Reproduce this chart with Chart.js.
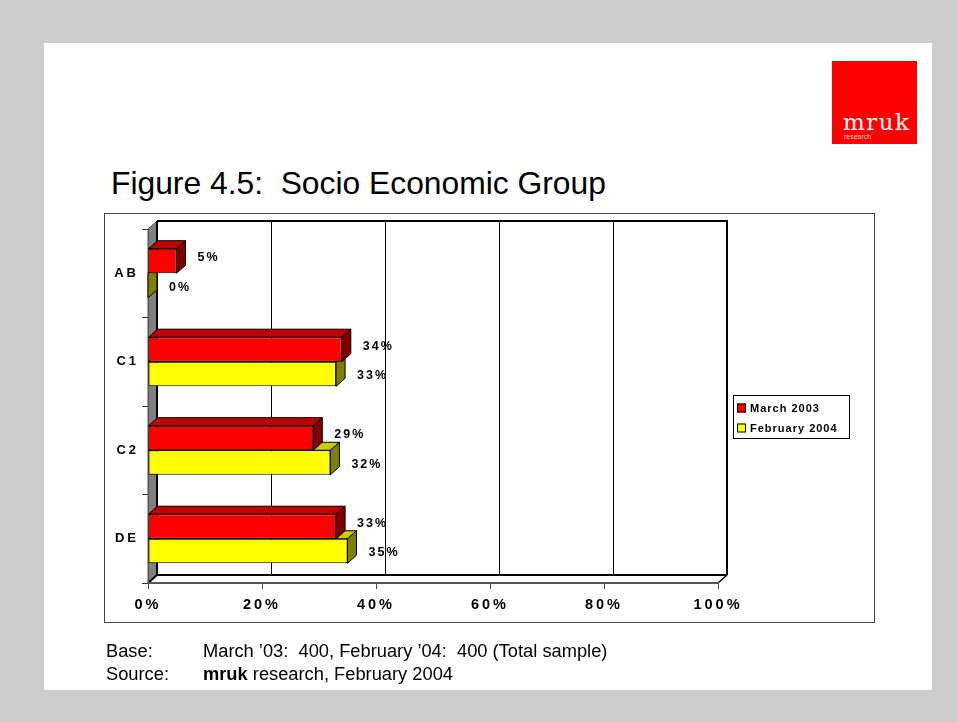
<!DOCTYPE html>
<html>
<head>
<meta charset="utf-8">
<title>Figure 4.5: Socio Economic Group</title>
<script src="https://cdn.jsdelivr.net/npm/chart.js@4.4.1/dist/chart.umd.min.js"></script>
<style>
  html, body { margin: 0; padding: 0; width: 957px; height: 722px; overflow: hidden;
    background: #cccccc; font-family: "Liberation Sans", Arial, sans-serif; }
  #panel { position: absolute; left: 44px; top: 43px; width: 888px; height: 647px; background: #ffffff; }
  #logo { position: absolute; left: 832px; top: 61px; width: 85px; height: 83px; background: #ff0000; }
  #logo .name { position: absolute; left: 11px; top: 50px; font-family: "DejaVu Serif", serif;
    font-size: 23px; line-height: 1; letter-spacing: 1.5px; color: #ffffff; white-space: pre; }
  #logo .sub { position: absolute; left: 12px; top: 72px; font-size: 7px; line-height: 1;
    color: #ffd0d0; white-space: pre; }
  #title { position: absolute; left: 111px; top: 168px; font-size: 31.8px; line-height: 1;
    color: #000; white-space: pre; }
  #frame { position: absolute; left: 104px; top: 213px; width: 771px; height: 410px;
    box-sizing: border-box; border: 1px solid #444; }
  #chart { position: absolute; left: 0; top: 0; }
  .note { position: absolute; font-size: 18.3px; line-height: 1; color: #000; white-space: pre; }
</style>
</head>
<body>
<div id="panel"></div>
<div id="logo"><div class="name">mruk</div><div class="sub">research</div></div>
<div id="title">Figure 4.5:  Socio Economic Group</div>
<div id="frame"></div>
<canvas id="chart" width="957" height="722"></canvas>
<div class="note" style="left:106px; top:642px;">Base:</div>
<div class="note" style="left:203px; top:642px;">March ’03:  400, February ’04:  400 (Total sample)</div>
<div class="note" style="left:106px; top:665px;">Source:</div>
<div class="note" style="left:203px; top:665px;"><b>mruk</b> research, February 2004</div>

<script>
// Socio-economic groups and the share of each sample (%)
const categories = ['AB', 'C1', 'C2', 'DE'];
const march2003 = [5, 34, 29, 33];
const february2004 = [0, 33, 32, 35];
const seriesNames = ['March 2003', 'February 2004'];
const xTickValues = [0, 20, 40, 60, 80, 100];
const xTickLabels = ['0%', '20%', '40%', '60%', '80%', '100%'];

// Pseudo-3D depth of the plot box and bars
const DX = 9, DY = -8;
const FONT = '"Liberation Sans", Arial, sans-serif';

const faceColours = [
  { top: '#c00000', side: '#800000' },
  { top: '#cccc00', side: '#808000' }
];

function poly(ctx, pts, fill, stroke, lw) {
  ctx.beginPath();
  ctx.moveTo(pts[0][0], pts[0][1]);
  for (let i = 1; i < pts.length; i++) ctx.lineTo(pts[i][0], pts[i][1]);
  ctx.closePath();
  if (fill) { ctx.fillStyle = fill; ctx.fill(); }
  if (stroke) { ctx.strokeStyle = stroke; ctx.lineWidth = lw || 1; ctx.stroke(); }
}

// Walls, floor and back gridlines, painted before the axes
const box3d = {
  id: 'box3d',
  beforeDraw(chart) {
    const ctx = chart.ctx;
    const a = chart.chartArea;
    const xs = chart.scales.x;
    ctx.save();
    // back wall
    poly(ctx, [[a.left + DX, a.top + DY], [a.right + DX, a.top + DY],
               [a.right + DX, a.bottom + DY], [a.left + DX, a.bottom + DY]], '#ffffff', null);
    // gridlines on the back wall
    ctx.strokeStyle = '#000';
    ctx.lineWidth = 1;
    xTickValues.slice(1, -1).forEach(v => {
      const x = Math.round(xs.getPixelForValue(v) + DX) + 0.5;
      ctx.beginPath();
      ctx.moveTo(x, a.top + DY);
      ctx.lineTo(x, a.bottom + DY);
      ctx.stroke();
    });
    ctx.lineWidth = 2;
    ctx.beginPath();
    ctx.moveTo(a.left + DX, a.top + DY);
    ctx.lineTo(a.right + DX, a.top + DY);
    ctx.lineTo(a.right + DX, a.bottom + DY);
    ctx.stroke();
    // floor
    poly(ctx, [[a.left, a.bottom], [a.left + DX, a.bottom + DY],
               [a.right + DX, a.bottom + DY], [a.right, a.bottom]], '#ffffff', null);
    ctx.lineWidth = 2;
    ctx.beginPath();
    ctx.moveTo(a.left + DX, a.bottom + DY);
    ctx.lineTo(a.right + DX, a.bottom + DY);
    ctx.stroke();
    ctx.lineWidth = 1.5;
    ctx.beginPath();
    ctx.moveTo(a.right + DX, a.bottom + DY);
    ctx.lineTo(a.right, a.bottom);
    ctx.stroke();
    // left side wall
    poly(ctx, [[a.left, a.top], [a.left + DX, a.top + DY],
               [a.left + DX, a.bottom + DY], [a.left, a.bottom]], '#808080', '#555', 1);
    ctx.lineWidth = 2;
    ctx.strokeStyle = '#000';
    ctx.beginPath();
    ctx.moveTo(a.left + DX, a.top + DY);
    ctx.lineTo(a.left + DX, a.bottom + DY);
    ctx.lineTo(a.left, a.bottom);
    ctx.stroke();
    ctx.restore();
    ctx.letterSpacing = '3px';
  },
  // top and end faces of each bar, drawn right after that series
  afterDatasetDraw(chart, args) {
    const ctx = chart.ctx;
    const cols = faceColours[args.index];
    ctx.save();
    ctx.lineJoin = 'miter';
    args.meta.data.forEach(el => {
      const p = el.getProps(['x', 'y', 'base', 'height'], true);
      const l = Math.min(p.x, p.base), r = Math.max(p.x, p.base);
      const t = p.y - p.height / 2, b = p.y + p.height / 2;
      poly(ctx, [[l, t], [l + DX, t + DY], [r + DX, t + DY], [r, t]], cols.top, '#000', 1);
      poly(ctx, [[r, t], [r + DX, t + DY], [r + DX, b + DY], [r, b]], cols.side, '#000', 1);
    });
    ctx.restore();
  },
  // value labels beside each bar
  afterDatasetsDraw(chart) {
    const ctx = chart.ctx;
    ctx.save();
    ctx.letterSpacing = '2px';
    ctx.font = 'bold 12.5px ' + FONT;
    ctx.fillStyle = '#000';
    ctx.textAlign = 'left';
    ctx.textBaseline = 'middle';
    chart.data.datasets.forEach((ds, di) => {
      chart.getDatasetMeta(di).data.forEach((el, i) => {
        const p = el.getProps(['x', 'y', 'base'], true);
        const r = Math.max(p.x, p.base);
        ctx.fillText(ds.data[i] + '%', r + DX + 12, p.y + (di === 0 ? -3 : 2));
      });
    });
    ctx.restore();
  },
  // boxed legend to the right of the plot
  afterDraw(chart) {
    const ctx = chart.ctx;
    ctx.save();
    ctx.letterSpacing = '1px';
    ctx.font = 'bold 11px ' + FONT;
    const lx = 733, ly = 395, lw = 116, lh = 43;
    ctx.fillStyle = '#fff';
    ctx.fillRect(lx, ly, lw, lh);
    ctx.strokeStyle = '#000';
    ctx.lineWidth = 1;
    ctx.strokeRect(lx + 0.5, ly + 0.5, lw, lh);
    ctx.textBaseline = 'middle';
    chart.data.datasets.forEach((ds, i) => {
      const cy = ly + 13 + i * 20;
      ctx.fillStyle = ds.backgroundColor;
      ctx.fillRect(lx + 4, cy - 4.5, 9, 9);
      ctx.strokeRect(lx + 4.5, cy - 4, 8, 8);
      ctx.fillStyle = '#000';
      ctx.fillText(seriesNames[i], lx + 17, cy + 0.5);
    });
    ctx.restore();
    ctx.letterSpacing = '0px';
  }
};

new Chart(document.getElementById('chart'), {
  type: 'bar',
  data: {
    labels: categories,
    datasets: [
      { label: seriesNames[0], data: march2003, backgroundColor: '#ff0000' },
      { label: seriesNames[1], data: february2004, backgroundColor: '#ffff00' }
    ]
  },
  options: {
    indexAxis: 'y',
    responsive: false,
    animation: false,
    devicePixelRatio: 1,
    layout: { padding: { left: 108, top: 229, right: 239, bottom: 99 } },
    datasets: {
      bar: {
        categoryPercentage: 0.555,
        barPercentage: 1,
        borderColor: '#000',
        borderWidth: 1,
        borderSkipped: false
      }
    },
    scales: {
      x: {
        type: 'linear',
        position: 'bottom',
        min: 0,
        max: 100,
        afterFit: s => { s.height = 40; },
        afterBuildTicks: s => { s.ticks = xTickValues.map(v => ({ value: v })); },
        grid: { drawOnChartArea: false, drawTicks: true, tickLength: 6, color: '#444', lineWidth: 1 },
        border: { display: true, color: '#555', width: 2 },
        ticks: {
          padding: 7,
          color: '#000',
          font: { family: FONT, size: 14.5, weight: 'bold' },
          maxRotation: 0,
          autoSkip: false,
          callback: (v, i) => xTickLabels[i]
        }
      },
      y: {
        type: 'category',
        position: 'left',
        afterFit: s => { s.width = 40; },
        grid: { drawOnChartArea: false, drawTicks: true, tickLength: 6, color: '#333', lineWidth: 1 },
        border: { display: true, color: '#555', width: 1 },
        ticks: {
          padding: 3,
          color: '#000',
          font: { family: FONT, size: 13, weight: 'bold' }
        }
      }
    },
    plugins: {
      legend: { display: false },
      tooltip: { enabled: false }
    }
  },
  plugins: [box3d]
});
</script>
</body>
</html>
